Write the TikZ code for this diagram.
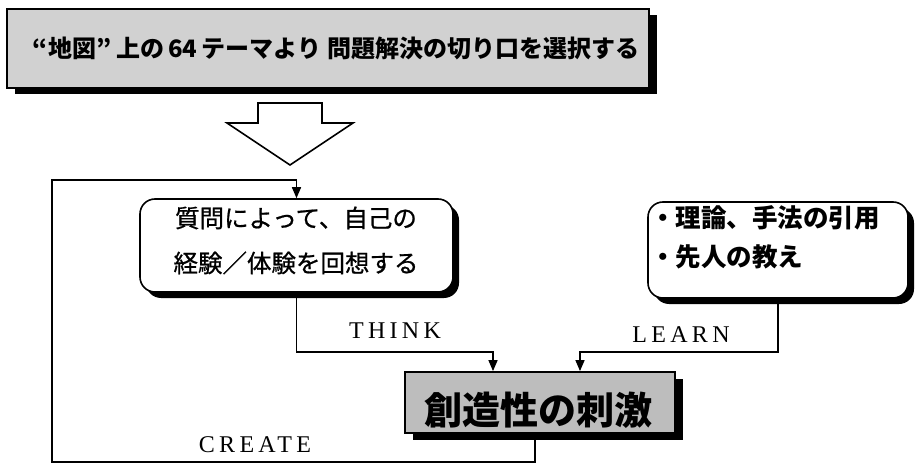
\documentclass[tikz,border=0pt]{standalone}
\usepackage{fontspec}
\setmainfont{Noto Sans CJK JP}
\newfontfamily\lbl[LetterSpace=18]{Liberation Serif}
\usetikzlibrary{arrows.meta,shadows,calc}
\tikzset{
  banner/.style={draw=black,line width=1.8pt,fill=black!18,minimum width=642pt,minimum height=79pt,inner sep=0pt,
    drop shadow={shadow xshift=8pt,shadow yshift=-6pt,fill=black,opacity=1}},
  rbox/.style={draw=black,line width=1.6pt,fill=white,rounded corners=15pt,inner sep=0pt,
    drop shadow={shadow xshift=6pt,shadow yshift=-6pt,fill=black,opacity=1}},
  cbox/.style={draw=black,line width=1.8pt,fill=black!26,minimum width=270pt,minimum height=61pt,inner sep=0pt,
    drop shadow={shadow xshift=8pt,shadow yshift=-7pt,fill=black,opacity=1}},
  txt/.style={inner sep=0pt},
  conn/.style={draw=black,line width=1.5pt},
  arr/.style={conn,-{Triangle[length=11pt,width=9pt]}},
  lab/.style={font=\lbl\fontsize{24}{24}\selectfont,inner sep=0pt}
}
\begin{document}
\begin{tikzpicture}[x=1pt,y=-1pt]
\useasboundingbox (0,0) rectangle (915,465);
% banner
\node[banner] (top) at (328,48.5) {};
\node[txt,font=\bfseries\fontsize{24}{24}\selectfont] (toptext) at (336,48)
  {“地図”\hspace{5pt}上の\hspace{4pt}64\hspace{4pt}テーマより\hspace{6pt}問題解決の切り口を選択する};
% big hollow arrow
\draw[line width=1.6pt,line join=miter,fill=white] (258,103) -- (322,103) -- (322,123) -- (353,123)
  -- (290,165) -- (227,123) -- (258,123) -- cycle;
% boxes
\node[rbox,minimum width=313pt,minimum height=93pt] (b1) at (296.5,245.5) {};
\node[txt,font=\addfontfeature{FakeBold=0.8}\fontsize{24.5}{45}\selectfont,align=center]
  (b1t) at (296,240.5) {質問によって、自己の\\経験／体験を回想する};
\node[rbox,minimum width=260pt,minimum height=96pt] (b2) at (778,250) {};
\node[txt,font=\bfseries\fontsize{25.5}{39}\selectfont,align=left,anchor=west]
  (b2t) at (650,237) {・理論、手法の引用\\・先人の教え};
\node[cbox] (c) at (540,402.5) {};
\node[txt,font=\bfseries\fontsize{38}{38}\selectfont] (ctext) at (538,410) {創造性の刺激};
% connectors
\coordinate (tk) at (493,352);
\coordinate (ln) at (580,352);
\coordinate (cs) at (535,433);
\coordinate (lb) at (52,462);
\coordinate (lt) at (52,180);
\draw[arr] (b1.south) |- (tk) -- (tk |- c.north);
\draw[arr] (b2.south) |- (ln) -- (ln |- c.north);
\draw[arr] (cs) |- (lb) -- (lt) -| (b1.north);
% labels
\node[lab] (think) at (395,331) {THINK};
\node[lab] (learn) at (681,335) {LEARN};
\node[lab] (create) at (255,445) {CREATE};
\end{tikzpicture}
\end{document}
